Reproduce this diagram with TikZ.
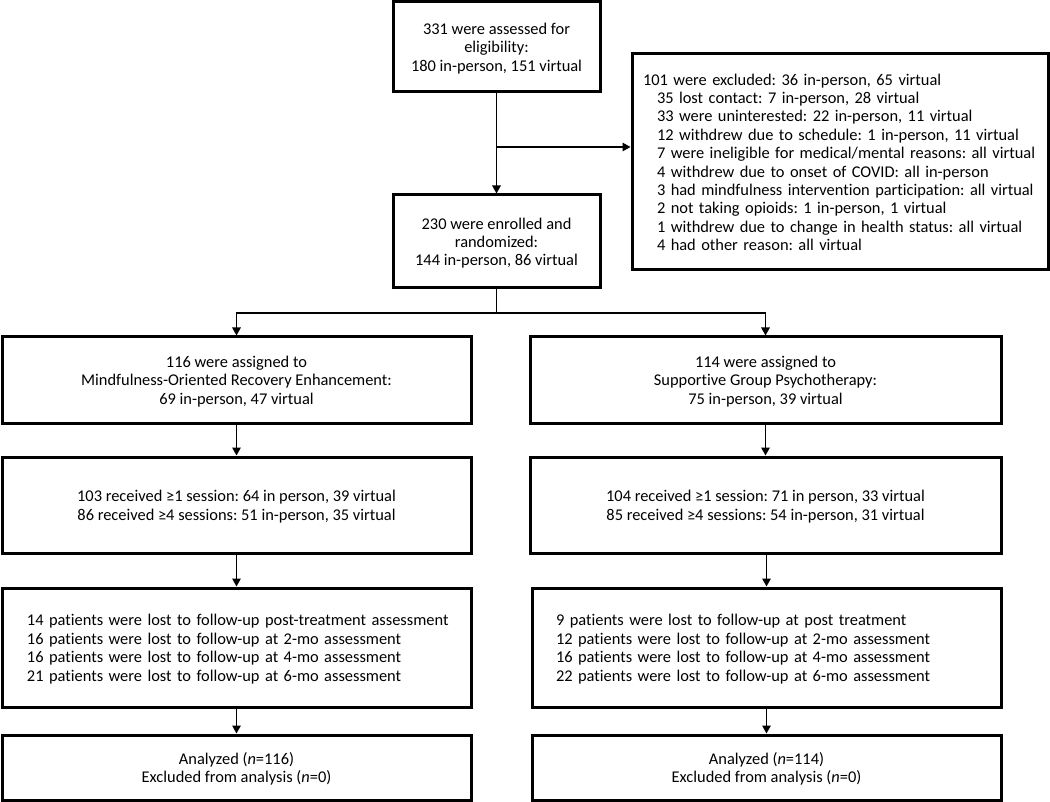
\documentclass[tikz,border=0pt]{standalone}
\usepackage{fontspec}
\setmainfont{Carlito}[Ligatures=NoCommon]
\usetikzlibrary{arrows.meta}
\newcommand{\lefttab}[1]{\begin{tabular}{@{}l@{}}\rule{0pt}{17.5pt}#1\end{tabular}}
\newcommand{\ctab}[1]{\begin{tabular}{@{}c@{}}\rule{0pt}{17.5pt}#1\end{tabular}}
\begin{document}
\frenchspacing
\begin{tikzpicture}[x=1pt,y=-1pt,
  box/.style={draw=black, line width=3pt, rectangle, inner sep=0pt, align=center,
    font=\fontsize{16.4}{18.4}\selectfont},
  lbox/.style={box, align=left},
  arr/.style={draw=black, line width=1.4pt, -{Triangle[width=8.5pt,length=8pt]}},
  ln/.style={draw=black, line width=1.4pt}]
\useasboundingbox (0,0) rectangle (1050,802);
\node[box, minimum width=207pt, minimum height=90pt] (top) at (496.5,47)
  {\ctab{331 were assessed for\\eligibility:\\180 in-person, 151 virtual}};
\node[box, minimum width=207pt, minimum height=93pt] (enrol) at (496.5,241.5)
  {\ctab{230 were enrolled and\\randomized:\\144 in-person, 86 virtual}};
\node[lbox, minimum width=416pt, minimum height=216pt, text width=394pt, inner xsep=11pt] (excl) at (840,162)
  {\lefttab{101 were excluded: 36 in-person, 65 virtual\\
   \hspace*{14pt}35 lost contact: 7 in-person, 28 virtual\\
   \hspace*{14pt}33 were uninterested: 22 in-person, 11 virtual\\
   \hspace*{14pt}12 withdrew due to schedule: 1 in-person, 11 virtual\\
   \hspace*{14pt}7 were ineligible for medical/mental reasons: all virtual\\
   \hspace*{14pt}4 withdrew due to onset of COVID: all in-person\\
   \hspace*{14pt}3 had mindfulness intervention participation: all virtual\\
   \hspace*{14pt}2 not taking opioids: 1 in-person, 1 virtual\\
   \hspace*{14pt}1 withdrew due to change in health status: all virtual\\
   \hspace*{14pt}4 had other reason: all virtual}};
\node[box, minimum width=469pt, minimum height=86pt] (more) at (236.5,380)
  {\ctab{116 were assigned to\\Mindfulness-Oriented Recovery Enhancement:\\69 in-person, 47 virtual}};
\node[box, minimum width=471pt, minimum height=86pt] (sgp) at (765.5,380)
  {\ctab{114 were assigned to\\Supportive Group Psychotherapy:\\75 in-person, 39 virtual}};
\node[box, minimum width=469pt, minimum height=96pt] (s1) at (236.5,505)
  {\ctab{103 received ≥1 session: 64 in person, 39 virtual\\86 received ≥4 sessions: 51 in-person, 35 virtual}};
\node[box, minimum width=471pt, minimum height=96pt] (s2) at (765.5,505)
  {\ctab{104 received ≥1 session: 71 in person, 33 virtual\\85 received ≥4 sessions: 54 in-person, 31 virtual}};
\node[lbox, minimum width=469pt, minimum height=119pt, text width=419pt, inner xsep=25pt] (f1) at (236.5,647.5)
  {\lefttab{14 patients were lost to follow-up post-treatment assessment\\
   16 patients were lost to follow-up at 2-mo assessment\\
   16 patients were lost to follow-up at 4-mo assessment\\
   21 patients were lost to follow-up at 6-mo assessment}};
\node[lbox, minimum width=469pt, minimum height=119pt, text width=421pt, inner xsep=24pt] (f2) at (766.5,647.5)
  {\lefttab{9 patients were lost to follow-up at post treatment\\
   12 patients were lost to follow-up at 2-mo assessment\\
   16 patients were lost to follow-up at 4-mo assessment\\
   22 patients were lost to follow-up at 6-mo assessment}};
\node[box, minimum width=469pt, minimum height=65pt] (a1) at (236.5,767.5)
  {\ctab{Analyzed (\textit{n}=116)\\Excluded from analysis (\textit{n}=0)}};
\node[box, minimum width=469pt, minimum height=65pt] (a2) at (766.5,767.5)
  {\ctab{Analyzed (\textit{n}=114)\\Excluded from analysis (\textit{n}=0)}};
% connectors
\draw[arr] (top.south) -- (enrol.north);
\coordinate (b1) at (496.5,147);
\draw[arr] (b1) -- (b1 -| excl.west);
\coordinate (j) at (496.5,313);
\draw[ln] (enrol.south) -- (j);
\draw[arr] (j) -| (more.north);
\draw[arr] (j) -| (sgp.north);
\draw[arr] (more.south) -- (s1.north);
\draw[arr] (sgp.south) -- (s2.north);
\draw[arr] (s1.south) -- (f1.north);
\draw[arr] (s2.south -| f2.north) -- (f2.north);
\draw[arr] (f1.south) -- (a1.north);
\draw[arr] (f2.south) -- (a2.north);
\end{tikzpicture}
\end{document}
